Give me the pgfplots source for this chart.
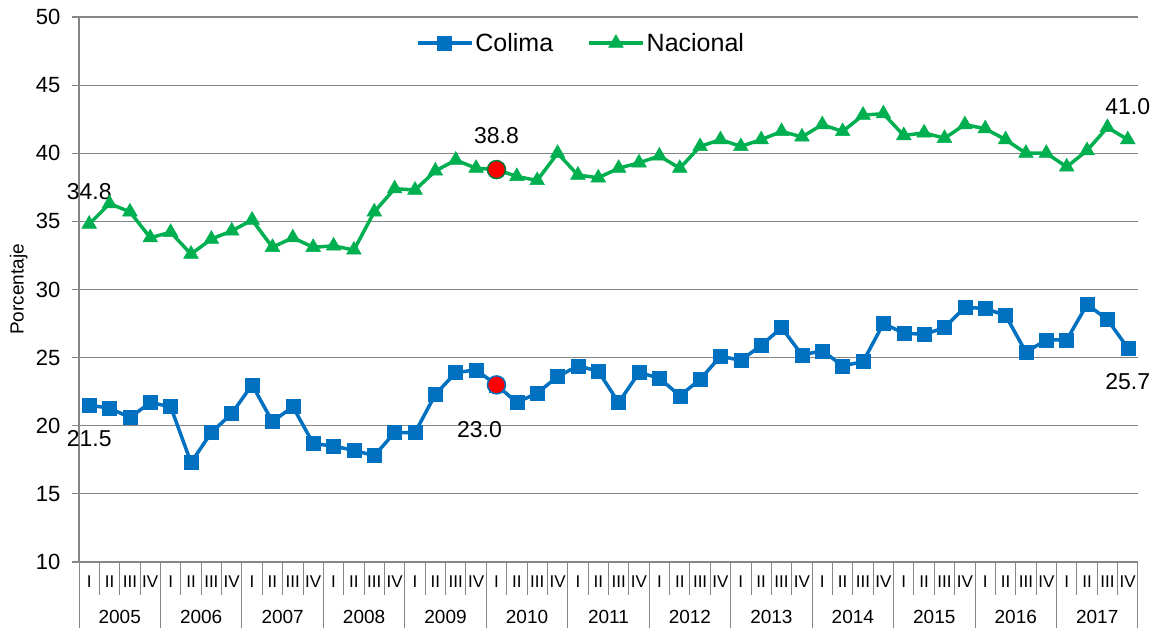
\documentclass[border=0pt]{standalone}
\usepackage{fontspec}
\setmainfont{Liberation Sans}
\usepackage{pgfplots}
\pgfplotsset{compat=1.18}
\usepackage{pgfplotstable}
\definecolor{colblue}{HTML}{0070C0}
\definecolor{natgreen}{HTML}{00B050}
\definecolor{gridgray}{HTML}{868686}

% quarter index (0 = 2005 I), Colima, Nacional
\pgfplotstableread{
q  col  nac
0  21.5 34.8
1  21.3 36.3
2  20.6 35.7
3  21.7 33.8
4  21.4 34.2
5  17.3 32.6
6  19.5 33.7
7  20.9 34.3
8  23.0 35.1
9  20.3 33.1
10 21.4 33.8
11 18.7 33.1
12 18.5 33.2
13 18.2 32.9
14 17.8 35.7
15 19.5 37.4
16 19.5 37.3
17 22.3 38.7
18 23.9 39.5
19 24.1 38.9
20 23.0 38.8
21 21.7 38.3
22 22.4 38.0
23 23.6 40.0
24 24.4 38.4
25 24.0 38.2
26 21.7 38.9
27 23.9 39.3
28 23.5 39.8
29 22.2 38.9
30 23.4 40.5
31 25.1 41.0
32 24.8 40.5
33 25.9 41.0
34 27.2 41.6
35 25.2 41.2
36 25.5 42.1
37 24.4 41.6
38 24.7 42.8
39 27.5 42.9
40 26.8 41.3
41 26.7 41.5
42 27.2 41.1
43 28.7 42.1
44 28.6 41.8
45 28.1 41.0
46 25.4 40.0
47 26.3 40.0
48 26.3 39.0
49 28.9 40.2
50 27.8 41.9
51 25.7 41.0
}\datos

\newcommand{\fs}[1]{\fontsize{#1}{#1}\selectfont}

\begin{document}
\begin{tikzpicture}
\useasboundingbox (0,0) rectangle (1159pt,628pt);
\begin{axis}[
    at={(79pt,66pt)}, anchor=south west,
    scale only axis, width=1059pt, height=545pt,
    xmin=-0.5, xmax=51.5,
    ymin=10, ymax=50,
    ytick={10,15,...,50},
    xtick={0,...,51},
    xticklabels={I,II,III,IV,I,II,III,IV,I,II,III,IV,I,II,III,IV,I,II,III,IV,I,II,III,IV,I,II,III,IV,I,II,III,IV,I,II,III,IV,I,II,III,IV,I,II,III,IV,I,II,III,IV,I,II,III,IV},
    axis x line*=bottom, axis y line*=left,
    axis line style={-, gridgray, line width=1.2pt},
    ymajorgrids, grid style={gridgray, line width=1.2pt},
    xtick style={draw=none},
    ytick style={gridgray, line width=1.2pt},
    tick align=outside, major tick length=7pt,
    /pgf/number format/assume math mode=true,
    yticklabel style={font=\fs{22}, anchor=east, xshift=-8pt},
    xticklabel style={font=\fs{17}, anchor=center, yshift=-13pt},
    ylabel={Porcentaje},
    ylabel style={font=\fs{19}, at={(axis description cs:-0.057,0.5)}, anchor=center},
    clip=false,
    legend columns=2,
    legend style={at={(0.474,0.952)}, anchor=center, draw=none, fill=none,
        font=\fs{25}, /tikz/every even column/.append style={column sep=32pt}},
    legend image code/.code={%
        \draw[mark repeat=2, mark phase=2, #1] plot coordinates {(0pt,0pt) (27pt,0pt) (54pt,0pt)};},
]
% separators of the category axis
\pgfplotsinvokeforeach{0,...,50}{
    \draw[gridgray, line width=1pt] (axis cs:#1+0.5,10) -- ++(0pt,-33pt);
}
\pgfplotsinvokeforeach{-0.5,3.5,7.5,11.5,15.5,19.5,23.5,27.5,31.5,35.5,39.5,43.5,47.5,51.5}{
    \draw[gridgray, line width=1pt] (axis cs:#1,10) -- ++(0pt,-66pt);
}

\addplot[colblue, line width=3.5pt, mark=square*, mark size=7pt,
    mark options={line width=0.5pt}] table[x=q, y=col] {\datos};
\addlegendentry{Colima}
\addplot[natgreen, line width=3.5pt, mark=triangle*, mark size=8.5pt,
    mark options={line width=0.5pt}] table[x=q, y=nac] {\datos};
\addlegendentry{Nacional}

% highlighted quarter (2010 I)
\addplot[only marks, mark=*, mark size=9pt, mark options={fill=red, draw=colblue, line width=1.5pt},
    forget plot] coordinates {(20,23.0)};
\addplot[only marks, mark=*, mark size=9pt, mark options={fill=red, draw=natgreen!70!black, line width=1.5pt},
    forget plot] coordinates {(20,38.8)};

% data labels
\node[font=\fs{23}] at (axis cs:0,34.8) [yshift=33pt] {34.8};
\node[font=\fs{23}] at (axis cs:0,21.5) [yshift=-33pt] {21.5};
\node[font=\fs{23}] at (axis cs:20,38.8) [yshift=34pt] {38.8};
\node[font=\fs{23}] at (axis cs:20,23.0) [xshift=-17pt, yshift=-45pt] {23.0};
\node[font=\fs{23}] at (axis cs:51,41.0) [yshift=33pt] {41.0};
\node[font=\fs{23}] at (axis cs:51,25.7) [yshift=-33pt] {25.7};

% year labels
\pgfplotsinvokeforeach{0,...,12}{
    \node[font=\fs{19}] at (axis cs:4*#1+1.5,10) [yshift=-55pt] {\the\numexpr2005+#1\relax};
}
\end{axis}
\end{tikzpicture}
\end{document}
